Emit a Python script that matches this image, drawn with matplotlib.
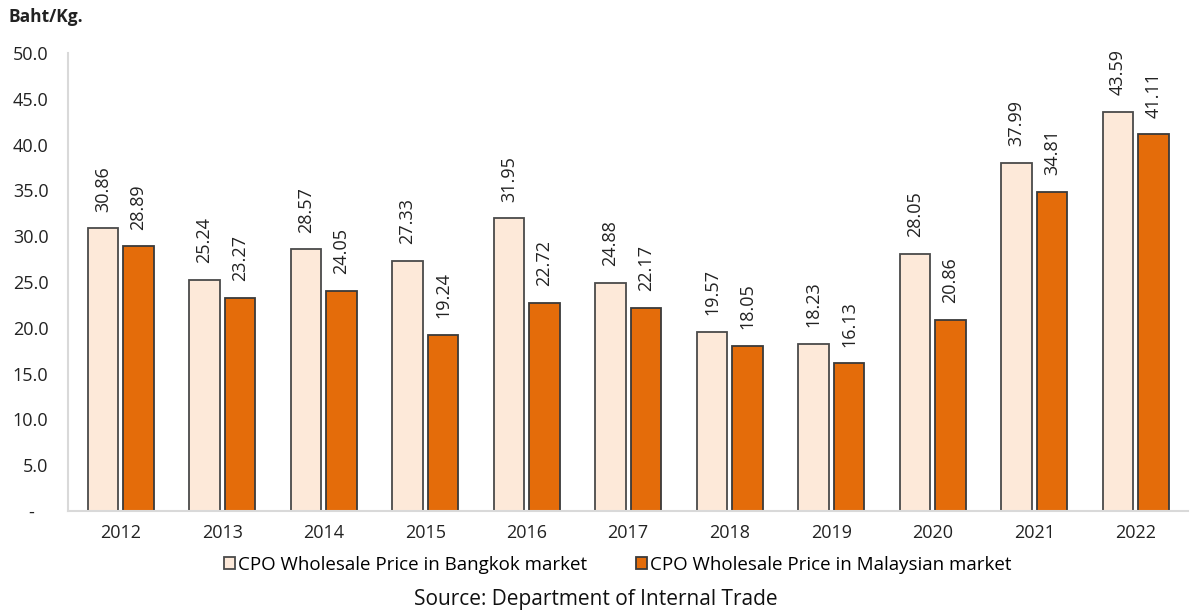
import numpy as np
import matplotlib.pyplot as plt
from matplotlib.ticker import FuncFormatter

years = ['2012', '2013', '2014', '2015', '2016', '2017', '2018', '2019', '2020', '2021', '2022']
bangkok = [30.86, 25.24, 28.57, 27.33, 31.95, 24.88, 19.57, 18.23, 28.05, 37.99, 43.59]
malaysia = [28.89, 23.27, 24.05, 19.24, 22.72, 22.17, 18.05, 16.13, 20.86, 34.81, 41.11]

plt.rcParams['font.family'] = ['Open Sans', 'DejaVu Sans']

fig = plt.figure(figsize=(11.92, 6.15), dpi=100)
ax = fig.add_axes([0.057, 0.169, 0.94, 0.745])

x = np.arange(len(years))
w = 0.3
b1 = ax.bar(x - 0.175, bangkok, w, color='#FDE9D9', edgecolor='#4a4a4a', linewidth=1.3,
            label='CPO Wholesale Price in Bangkok market')
b2 = ax.bar(x + 0.175, malaysia, w, color='#E46C0A', edgecolor='#3a3a3a', linewidth=1.3,
            label='CPO Wholesale Price in Malaysian market')

# rotated value labels above each bar
for bars in (b1, b2):
    for r in bars:
        v = r.get_height()
        ax.annotate(f'{v:.2f}', (r.get_x() + r.get_width() / 2, v), xytext=(0, 12),
                    textcoords='offset points', rotation=90, ha='center', va='bottom',
                    fontsize=13, color='#222222')

ax.set_ylim(0, 50)
ax.set_xlim(-0.52, 10.52)
ax.set_yticks(np.arange(0, 50.1, 5))
ax.yaxis.set_major_formatter(FuncFormatter(lambda v, p: '-   ' if v == 0 else f'{v:.1f}'))
ax.set_xticks(x)
ax.set_xticklabels(years)
ax.tick_params(axis='both', length=0, labelsize=13, colors='#222222')
ax.tick_params(axis='x', pad=9)
ax.tick_params(axis='y', pad=14)

for s in ('top', 'right'):
    ax.spines[s].set_visible(False)
for s in ('left', 'bottom'):
    ax.spines[s].set_color('#D9D9D9')
    ax.spines[s].set_linewidth(1.5)

fig.text(0.007, 0.972, 'Baht/Kg.', fontsize=12.5, fontweight='bold', va='center', color='#222222')

fig.legend(handles=[b1, b2], loc='center', bbox_to_anchor=(0.518, 0.082), ncol=2,
           frameon=False, fontsize=13.5, handlelength=0.6, handleheight=0.6,
           handletextpad=0.15, columnspacing=2.6)
fig.text(0.5, 0.025, 'Source: Department of Internal Trade', ha='center', va='center',
         fontsize=15, color='#111111')

fig.savefig('out.png', dpi=100)
